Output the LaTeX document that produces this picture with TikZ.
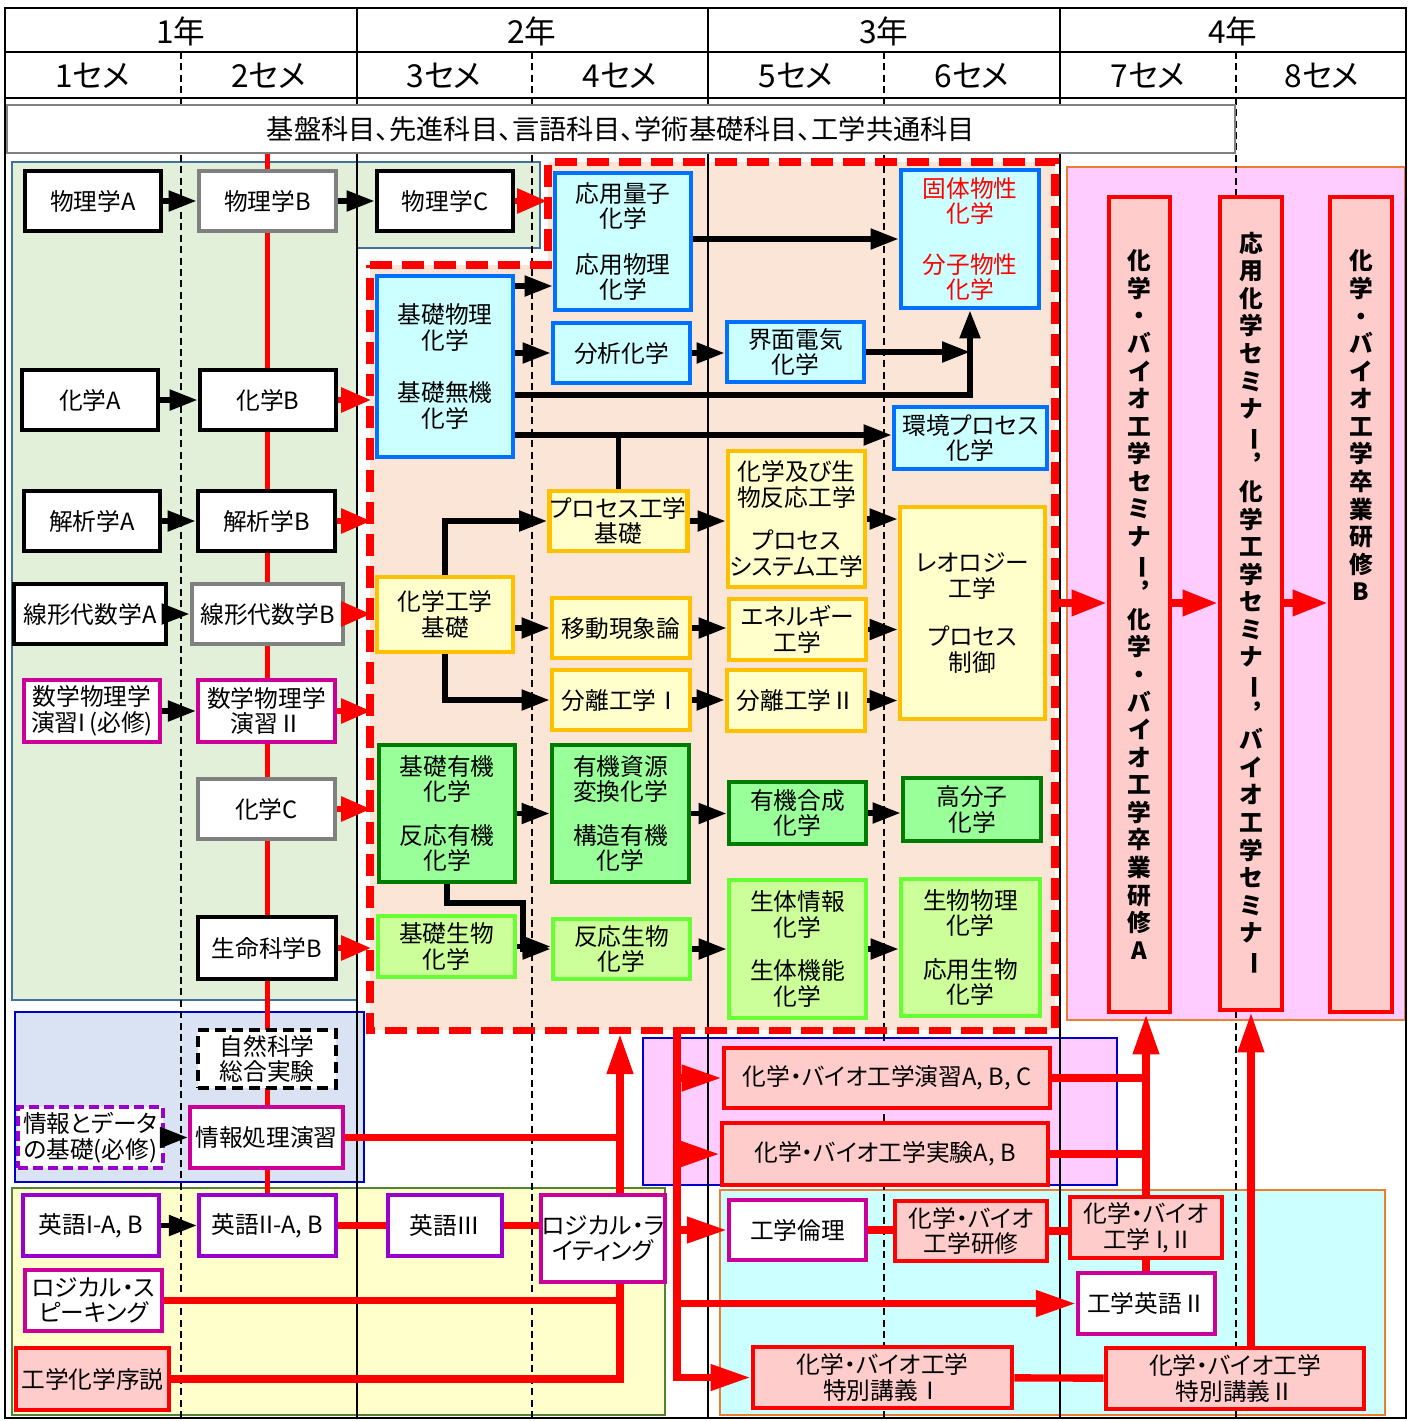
\documentclass[tikz,border=0pt]{standalone}
\usepackage{fontspec}
\setmainfont{Noto Sans CJK JP}[RawFeature=+palt]
\usepackage{graphicx}
\usepackage{tikz}
\usetikzlibrary{arrows.meta,positioning}
\definecolor{CurGreen}{HTML}{E2EFD9}
\definecolor{CurPeach}{HTML}{FBE5D6}
\definecolor{CurLav}{HTML}{DAE3F3}
\definecolor{CurCream}{HTML}{FFFFCC}
\definecolor{CurPink}{HTML}{FFCCFF}
\definecolor{CurCyan}{HTML}{CCFFFF}
\definecolor{CurRose}{HTML}{FFCCCC}
\definecolor{CurBlue}{HTML}{0070FF}
\definecolor{CurAmber}{HTML}{FFC000}
\definecolor{CurLeaf}{HTML}{007A00}
\definecolor{CurLime}{HTML}{66FF33}
\definecolor{CurMint}{HTML}{99FF99}
\definecolor{CurSprout}{HTML}{CCFF99}
\definecolor{CurMagenta}{HTML}{CC0099}
\definecolor{CurPurple}{HTML}{9900CC}
\definecolor{CurGray}{HTML}{808080}
\definecolor{CurSlate}{HTML}{41719C}
\definecolor{CurOlive}{HTML}{548235}
\definecolor{CurOrange}{HTML}{ED7D31}
\definecolor{CurNavy}{HTML}{0000CC}
\pgfdeclarelayer{regions}
\pgfdeclarelayer{grid}
\pgfsetlayers{regions,grid,main}
\tikzset{
  sz/.style 2 args={minimum width=#1*0.02cm, minimum height=#2*0.02cm},
  subject/.style={rectangle, align=center, inner sep=0.5pt, fill=white, line width=2.4pt,
    font=\fontsize{13.5}{14.5}\selectfont},
  blackbox/.style={subject, draw=black, line width=2.8pt},
  graybox/.style={subject, draw=CurGray, line width=2.8pt},
  magbox/.style={subject, draw=CurMagenta},
  purbox/.style={subject, draw=CurPurple},
  optpur/.style={subject, draw=CurPurple, dash pattern=on 0.2cm off 0.1cm},
  optblack/.style={subject, draw=black, line width=2.8pt, dash pattern=on 0.22cm off 0.12cm},
  bluebox/.style={subject, draw=CurBlue, fill=CurCyan, line width=2.8pt},
  ambox/.style={subject, draw=CurAmber, fill=CurCream, line width=2.8pt},
  organic/.style={subject, draw=CurLeaf, fill=CurMint, line width=2.8pt},
  biobox/.style={subject, draw=CurLime, fill=CurSprout, line width=2.8pt},
  rosebox/.style={subject, draw=red, fill=CurRose, line width=2.8pt},
  seminar/.style={rosebox, font=\fontsize{13.5}{15.7}\selectfont\bfseries},
  vtext/.style={align=center, inner sep=0pt, font=\fontsize{13.5}{15.7}\selectfont\bfseries},
  yearlbl/.style={inner sep=0pt, font=\fontsize{18}{20}\selectfont},
  semline/.style={line width=1pt, dash pattern=on 4pt off 2.5pt},
  arr/.style={-{Triangle[length=0.56cm,width=0.4cm]}, line width=3pt},
  rarr/.style={-{Triangle[length=0.6cm,width=0.48cm]}, line width=3.4pt, draw=red},
  bigrarr/.style={-{Triangle[length=0.7cm,width=0.5cm]}, line width=4pt, draw=red},
  rline/.style={line width=4.2pt, draw=red},
  rlarr/.style={rline, -{Triangle[length=0.8cm,width=0.5cm]}}
}
\newcommand{\choon}{\rotatebox[origin=c]{-90}{ー}}

\begin{document}
\begin{tikzpicture}[x=0.02cm, y=-0.02cm]
\useasboundingbox (0,0) rectangle (1408,1421);

% coloured areas
\begin{pgfonlayer}{regions}
  \fill[white] (0,0) rectangle (1408,1421);
  \filldraw[fill=CurGreen, draw=CurSlate, line width=1pt]
    (12,162) -- (540,162) -- (540,248) -- (357,248) -- (357,1000) -- (12,1000) -- cycle;
  \fill[CurPeach] (370,265) -- (548,265) -- (548,162) -- (1055,162) -- (1055,1030) -- (370,1030) -- cycle;
  \filldraw[fill=CurLav, draw=CurNavy, line width=1.2pt] (15,1012) rectangle (364,1182);
  \filldraw[fill=CurCream, draw=CurOlive, line width=1.2pt] (12,1188) rectangle (665,1415);
  \filldraw[fill=CurPink, draw=CurOrange, line width=1.2pt] (1067,167) rectangle (1405,1020);
  \filldraw[fill=CurPink, draw=CurNavy, line width=1.2pt] (643,1038) rectangle (1117,1185);
  \filldraw[fill=CurCyan, draw=CurOrange, line width=1.2pt] (720,1190) rectangle (1385,1415);
\end{pgfonlayer}

% table
\begin{pgfonlayer}{grid}
  \draw[line width=1.2pt] (5,8) rectangle (1406,1418);
  \draw[line width=1.2pt] (5,52) -- (1406,52) (5,98) -- (1406,98);
  \foreach \gx in {357,708,1060} \draw[line width=1.2pt] (\gx,8) -- (\gx,1418);
  \foreach \gx in {181,532,884,1236} \draw[semline] (\gx,52) -- (\gx,1418);
\end{pgfonlayer}

\node[yearlbl] (y1) at (181,31) {1年};
\node[yearlbl] (y2) at (532,31) {2年};
\node[yearlbl] (y3) at (884,31) {3年};
\node[yearlbl] (y4) at (1233,31) {4年};
\node[yearlbl] (s1) at (93,76) {1セメ};
\node[yearlbl] (s2) at (269,76) {2セメ};
\node[yearlbl] (s3) at (444,76) {3セメ};
\node[yearlbl] (s4) at (620,76) {4セメ};
\node[yearlbl] (s5) at (796,76) {5セメ};
\node[yearlbl] (s6) at (972,76) {6セメ};
\node[yearlbl] (s7) at (1148,76) {7セメ};
\node[yearlbl] (s8) at (1322,76) {8セメ};

\node[draw=CurGray, fill=white, line width=0.8pt, sz={1228}{48}, font=\fontsize{15.5}{17}\selectfont] (banner) at (621,129)
  {基盤科目、先進科目、言語科目、学術基礎科目、工学共通科目};

\draw[red, line width=4pt, dash pattern=on 0.44cm off 0.2cm]
  (370,265) -- (548,265) -- (548,162) -- (1055,162) -- (1055,1030) -- (370,1030) -- cycle;
\coordinate (pchW) at (371,600);
\coordinate (pchNW) at (547,200);
\coordinate (pchE) at (1056,603);
\coordinate (pchS) at (620,1034);
\coordinate (pchSE) at (677,1030);
\coordinate (kink) at (523,903);

% 1 sem
\node[blackbox, sz={136}{60}] (butsuriA) at (93,201) {物理学A};
\node[blackbox, sz={136}{60}] (kagakuA) at (90,400) {化学A};
\node[blackbox, sz={136}{60}] (kaisekiA) at (92,521) {解析学A};
\node[blackbox, sz={152}{60}] (senkeiA) at (90,614) {線形代数学A};
\node[magbox, sz={136}{62}] (suriA) at (92,711) {数学物理学\\演習I\,(必修)};
\node[optpur, sz={145}{61}, inner sep=0pt] (dataKiso) at (90.5,1137.5) {情報とデータ\\の基礎(必修)};
\node[purbox, sz={136}{61}] (eigo1) at (91,1225.5) {英語I-A, B};
\node[magbox, sz={137}{61}] (logicalSp) at (93.5,1300.5) {ロジカル・ス\\ピーキング};
\node[rosebox, sz={153}{62}] (joron) at (92.5,1379) {工学化学序説};

% 2 sem
\node[graybox, sz={137}{60}] (butsuriB) at (267.5,201) {物理学B};
\node[blackbox, sz={136}{60}] (kagakuB) at (268,400) {化学B};
\node[blackbox, sz={137}{60}] (kaisekiB) at (266.5,521) {解析学B};
\node[graybox, sz={151}{60}] (senkeiB) at (267.5,614) {線形代数学B};
\node[magbox, sz={137}{62}] (suriB) at (266.5,711) {数学物理学\\演習Ⅱ};
\node[graybox, sz={137}{60}] (kagakuC) at (266.5,809) {化学C};
\node[blackbox, sz={138}{62}] (seimeiB) at (267,948) {生命科学B};
\node[optblack, sz={138}{58}] (sogoJikken) at (267,1059) {自然科学\\総合実験};
\node[magbox, sz={153}{61}] (jouhouEn) at (266.5,1137.5) {情報処理演習};
\node[purbox, sz={137}{61}] (eigo2) at (267.5,1225.5) {英語II-A, B};

% 3 sem
\node[blackbox, sz={136}{60}] (butsuriC) at (445,201) {物理学C};
\node[bluebox, sz={136}{181}] (kisoButsuri) at (445,366.5) {基礎物理\\化学\\[0.55cm]基礎無機\\化学};
\node[ambox, sz={136}{75}] (kagakuKogaku) at (445,614.5) {化学工学\\基礎};
\node[organic, sz={136}{137}] (kisoYuki) at (447,813.5) {基礎有機\\化学\\[0.36cm]反応有機\\化学};
\node[biobox, sz={137}{61}] (kisoSeibutsu) at (446.5,946.5) {基礎生物\\化学};
\node[purbox, sz={114}{61}] (eigo3) at (445,1225.5) {英語Ⅲ};

% 4 sem
\node[bluebox, sz={136}{137}] (oyoRyoshi) at (623,241.5) {応用量子\\化学\\[0.4cm]応用物理\\化学};
\node[bluebox, sz={137}{60}] (bunseki) at (621.5,353) {分析化学};
\node[ambox, sz={137}{60}] (processKiso) at (618.5,521) {プロセス工学\\基礎};
\node[ambox, sz={138}{60}] (idou) at (621,628) {移動現象論};
\node[ambox, sz={138}{60}] (bunri1) at (621,700) {分離工学Ⅰ};
\node[organic, sz={137}{137}] (yukiShigen) at (620.5,813.5) {有機資源\\変換化学\\[0.36cm]構造有機\\化学};
\node[biobox, sz={137}{60}] (hannoSeibutsu) at (621.5,949) {反応生物\\化学};
\node[magbox, sz={114}{87}] (logicalWr) at (603,1238.5) {ロジカル・ラ\\イティング};

% 5 sem
\node[bluebox, sz={137}{60}] (kaimen) at (795.5,352) {界面電気\\化学};
\node[ambox, sz={137}{136}] (hanno) at (796.5,519) {化学及び生\\物反応工学\\[0.36cm]プロセス\\システム工学};
\node[ambox, sz={137}{61}] (energy) at (797.5,629.5) {エネルギー\\工学};
\node[ambox, sz={138}{61}] (bunri2) at (796,700.5) {分離工学Ⅱ};
\node[organic, sz={137}{62}] (yukiGosei) at (797.5,813) {有機合成\\化学};
\node[biobox, sz={137}{138}] (seitai) at (797.5,949) {生体情報\\化学\\[0.36cm]生体機能\\化学};

% 6 sem
\node[bluebox, sz={138}{138}, text=red] (kotai) at (970,239) {固体物性\\化学\\[0.5cm]分子物性\\化学};
\node[bluebox, sz={153}{62}] (kankyo) at (970.5,438) {環境プロセス\\化学};
\node[ambox, sz={145}{212}] (rheology) at (972.5,613) {レオロジー\\工学\\[0.46cm]プロセス\\制御};
\node[organic, sz={138}{63}] (kobunshi) at (972,809.5) {高分子\\化学};
\node[biobox, sz={139}{137}] (seibutsuButsuri) at (970.5,947.5) {生物物理\\化学\\[0.36cm]応用生物\\化学};

% 4th year
\node[seminar, sz={61}{815}] (semiA) at (1139.5,604.5)
  {化\\学\\・\\バ\\イ\\オ\\工\\学\\セ\\ミ\\ナ\\\choon\\︐\\化\\学\\・\\バ\\イ\\オ\\工\\学\\卒\\業\\研\\修\\A};
\node[seminar, sz={62}{813}] (semiB) at (1251,603.5)
  {応\\用\\化\\学\\セ\\ミ\\ナ\\\choon\\︐\\化\\学\\工\\学\\セ\\ミ\\ナ\\\choon\\︐\\バ\\イ\\オ\\工\\学\\セ\\ミ\\ナ\\\choon};
\node[seminar, sz={62}{815}] (sotsuB) at (1361,604.5) {};
\node[vtext, below=1.1cm of sotsuB.north] (sotsuBtxt)
  {化\\学\\・\\バ\\イ\\オ\\工\\学\\卒\\業\\研\\修\\B};

% practice and lectures
\node[rosebox, sz={326}{60}] (enshu) at (887,1078) {化学・バイオ工学演習A, B, C};
\node[rosebox, sz={326}{62}] (jikkenAB) at (885,1154) {化学・バイオ工学実験A, B};
\node[magbox, sz={137}{60}] (rinri) at (797.5,1230) {工学倫理};
\node[rosebox, sz={152}{60}] (kenshu) at (971,1231) {化学・バイオ\\工学研修};
\node[rosebox, sz={152}{61}] (kogaku12) at (1146,1227.5) {化学・バイオ\\工学 I, II};
\node[magbox, sz={137}{61}] (eigoK2) at (1146.5,1303.5) {工学英語Ⅱ};
\node[rosebox, sz={259}{61}] (tokubetsu1) at (882.5,1377.5) {化学・バイオ工学\\特別講義Ⅰ};
\node[rosebox, sz={258}{61}] (tokubetsu2) at (1235,1378.5) {化学・バイオ工学\\特別講義Ⅱ};

% black flow
\draw[arr] (butsuriA) -- (butsuriB);
\draw[arr] (butsuriB) -- (butsuriC);
\draw[arr] (kagakuA) -- (kagakuB);
\draw[arr] (kaisekiA) -- (kaisekiB);
\draw[arr] (senkeiA) -- (senkeiB);
\draw[arr] (suriA) -- (suriB);
\draw[arr] (dataKiso) -- (jouhouEn);
\draw[arr] (eigo1) -- (eigo2);
\draw[arr] (kisoButsuri.east |- 0,286) -- (oyoRyoshi.west |- 0,286);
\draw[arr] (kisoButsuri.east |- bunseki) -- (bunseki.west);
\draw[arr] (oyoRyoshi.east |- kotai) -- (kotai.west);
\draw[arr] (bunseki.east) -- (bunseki.east -| kaimen.west);
\draw[arr] (kaimen.east) -- (kaimen.east -| kotai.south);
\draw[arr] (kisoButsuri.east |- 0,395) -| (kotai.south);
\draw[arr] (kisoButsuri.east |- 0,435) -- (kankyo.west |- 0,435);
\draw[line width=3pt] (processKiso.north) -- (processKiso.north |- 0,435);
\draw[arr] (kagakuKogaku.north) |- (processKiso.west);
\draw[arr] (kagakuKogaku.south) |- (bunri1.west);
\draw[arr] (kagakuKogaku.east |- idou) -- (idou.west);
\draw[arr] (processKiso.east) -- (processKiso.east -| hanno.west);
\draw[arr] (idou.east) -- (idou.east -| energy.west);
\draw[arr] (bunri1.east) -- (bunri1.east -| bunri2.west);
\draw[arr] (hanno.east) -- (hanno.east -| rheology.west);
\draw[arr] (energy.east) -- (energy.east -| rheology.west);
\draw[arr] (bunri2.east) -- (bunri2.east -| rheology.west);
\draw[arr] (kisoYuki) -- (yukiShigen);
\draw[arr] (yukiShigen) -- (yukiShigen -| yukiGosei.west);
\draw[arr] (yukiGosei.east) -- (yukiGosei.east -| kobunshi.west);
\draw[arr] (kisoYuki.south) |- (kink) |- (hannoSeibutsu.west);
\draw[arr] (kisoSeibutsu.east) -- (kisoSeibutsu.east -| hannoSeibutsu.west);
\draw[arr] (hannoSeibutsu) -- (seitai);
\draw[arr] (seitai.east) -- (seitai.east -| seibutsuButsuri.west);

% red flow into the specialised block
\draw[rarr] (butsuriC.east) -- (butsuriC.east -| pchNW);
\foreach \src in {kagakuB,kaisekiB,senkeiB,suriB,kagakuC,seimeiB}
  \draw[rarr] (\src.east) -- (\src.east -| pchW);
\draw[bigrarr] (pchE) -- (pchE -| semiA.west);
\draw[bigrarr] (semiA.east |- pchE) -- (semiB.west |- pchE);
\draw[bigrarr] (semiB.east |- pchE) -- (sotsuB.west |- pchE);

% language and information
\draw[rline] (jouhouEn.east) -- (jouhouEn.east -| pchS);
\draw[rline] (eigo2) -- (eigo3);
\draw[rline] (eigo3.east) -- (eigo3.east -| logicalWr.west);
\draw[rline] (logicalSp.east) -- (logicalSp.east -| pchS);
\draw[rline] (joron.east) -| (logicalWr.south -| pchS);
\draw[rlarr] (logicalWr.north -| pchS) -- (pchS);

% experiments and lectures
\draw[rlarr] (pchSE) |- (tokubetsu1.west);
\draw[rlarr] (pchSE |- enshu) -- (enshu.west);
\draw[rlarr] (pchSE |- jikkenAB) -- (jikkenAB.west);
\draw[rlarr] (pchSE |- rinri) -- (rinri.west);
\draw[rlarr] (pchSE |- eigoK2) -- (eigoK2.west);
\draw[rline] (enshu.east) -- (enshu.east -| kogaku12);
\draw[rline] (jikkenAB.east) -- (jikkenAB.east -| kogaku12);
\draw[rlarr] (kogaku12.north) -- (kogaku12.north |- semiA.south);
\draw[rline] (rinri) -- (rinri -| kenshu.west);
\draw[rline] (kenshu.east) -- (kenshu.east -| kogaku12.west);
\draw[rline] (kogaku12.south) -- (kogaku12.south |- eigoK2.north);
\draw[rline] (tokubetsu1) -- (tokubetsu2);
\draw[rlarr] (tokubetsu2.north -| semiB) -- (semiB.south);

\begin{pgfonlayer}{grid}
  \draw[red, line width=2.8pt] (banner.south -| butsuriB) -- (eigo2.north);
\end{pgfonlayer}
\end{tikzpicture}
\end{document}
